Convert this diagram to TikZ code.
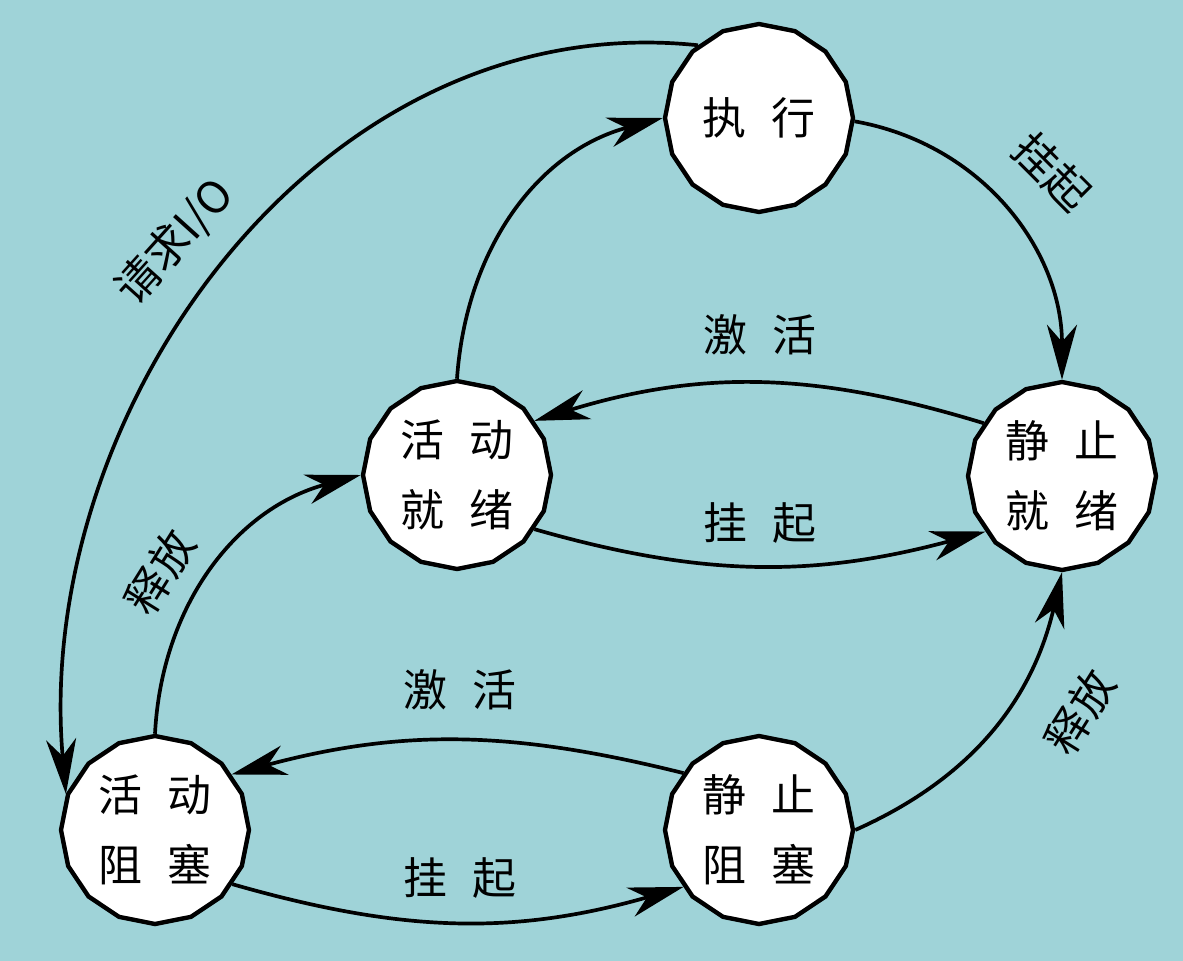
\documentclass[tikz,border=0pt]{standalone}
\usepackage{fontspec}
\newfontfamily\cjk[WordSpace=2.5]{Noto Sans CJK SC}
\usetikzlibrary{shapes.geometric,arrows.meta}
\definecolor{bgteal}{RGB}{159,211,216}
\begin{document}
\begin{tikzpicture}[
  proc/.style={regular polygon,regular polygon sides=16,shape border rotate=11.25,draw,fill=white,line width=1.25pt,minimum size=1.88cm,inner sep=0pt,align=center,font=\cjk\fontsize{12.5}{20}\selectfont},
  trans/.style={-{Stealth[length=5.5mm,width=3mm,inset=1.7mm]},line width=1.05pt},
  lbl/.style={font=\cjk\fontsize{12.5}{15}\selectfont}]
  \fill [bgteal] (0,0) rectangle (11.83,-9.61);
  \useasboundingbox (0,0) rectangle (11.83,-9.61);
  \node (Running) [proc] at (7.59,-1.18) {执 行};
  \node (StaticReady) [proc] at (10.62,-4.76) {静 止\\就 绪};
  \node (ActiveReady) [proc] at (4.57,-4.75) {活 动\\就 绪};
  \node (ActiveBlocked) [proc] at (1.55,-8.30) {活 动\\阻 塞};
  \node (StaticBlocked) [proc] at (7.59,-8.30) {静 止\\阻 塞};
  \draw [trans] (Running.-2) to[out=-10,in=90] (StaticReady.90);
  \draw [trans] (StaticReady.146) to[out=163,in=17] (ActiveReady.35);
  \draw [trans] (ActiveReady.-35) to[out=-16,in=195] (StaticReady.216);
  \draw [trans] (ActiveReady.90) to[out=86,in=195] (Running.180);
  \draw [trans] (Running.130) to[out=174,in=95] (ActiveBlocked.158);
  \draw [trans] (ActiveBlocked.90) to[out=87,in=195] (ActiveReady.180);
  \draw [trans] (StaticBlocked.143) to[out=166,in=15] (ActiveBlocked.36);
  \draw [trans] (ActiveBlocked.-35) to[out=-16,in=196] (StaticBlocked.217);
  \draw [trans] (StaticBlocked.0) to[out=24,in=-103] (StaticReady.270);
  \node (UpActivate) [lbl] at (7.60,-3.35) {激 活};
  \node (UpSuspend) [lbl] at (7.60,-5.23) {挂 起};
  \node (LowActivate) [lbl] at (4.60,-6.90) {激 活};
  \node (LowSuspend) [lbl] at (4.60,-8.78) {挂 起};
  \node (RunSuspend) [lbl,rotate=-45] at (10.52,-1.72) {挂起};
  \node (RequestIO) [lbl,rotate=48] at (1.75,-2.42) {请求I/O};
  \node (LeftRelease) [lbl,rotate=58] at (1.60,-5.72) {释放};
  \node (RightRelease) [lbl,rotate=58] at (10.80,-7.12) {释放};
\end{tikzpicture}
\end{document}
